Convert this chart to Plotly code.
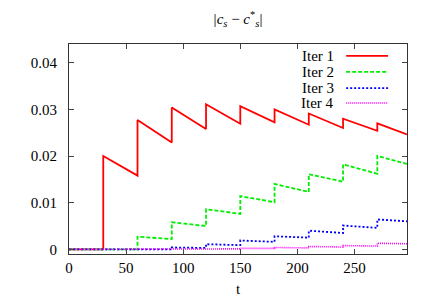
import plotly.graph_objects as go

# ---- data ----
jump_times = [30, 60, 90, 120, 150, 180, 210, 240, 270]
t_end = 296

iter1_peak = [0.0200, 0.0277, 0.0304, 0.0311, 0.0307, 0.0300, 0.0291, 0.0280, 0.0270]
iter1_end = [0.0158, 0.0229, 0.0258, 0.0269, 0.0272, 0.0267, 0.0260, 0.0254, 0.0246]

iter2_peak = [0.0027, 0.0058, 0.0086, 0.0114, 0.0140, 0.0161, 0.0182, 0.0200]
iter2_end = [0.0022, 0.0050, 0.0076, 0.0101, 0.0123, 0.0145, 0.0162, 0.0183]

iter3_peak = [0.0004, 0.0011, 0.0019, 0.0028, 0.0040, 0.0051, 0.0064]
iter3_end = [0.0003, 0.0009, 0.0016, 0.0025, 0.0035, 0.0046, 0.0060]

iter4_peak = [0.0001, 0.0002, 0.0004, 0.0006, 0.0008, 0.0013]
iter4_end = [0.0001, 0.0002, 0.0003, 0.0005, 0.0007, 0.0012]

names = ["Iter 1", "Iter 2", "Iter 3", "Iter 4"]
x_ticks = [0, 50, 100, 150, 200, 250]
y_ticks = [0, 0.01, 0.02, 0.03, 0.04]
y_tick_labels = ["0", "0.01", "0.02", "0.03", "0.04"]


def sawtooth(peaks, ends):
    starts = jump_times[len(jump_times) - len(peaks):]
    stops = starts[1:] + [t_end]
    xs, ys = [0, starts[0]], [0, 0]
    for s, e, p, q in zip(starts, stops, peaks, ends):
        xs += [s, e]
        ys += [p, q]
    return xs, ys


series = [sawtooth(iter1_peak, iter1_end), sawtooth(iter2_peak, iter2_end),
          sawtooth(iter3_peak, iter3_end), sawtooth(iter4_peak, iter4_end)]
colors = ["#ff0000", "#00ee00", "#0000ff", "#ff00ff"]
dashes = ["solid", "4px,2px", "2px,2px", "1px,1px"]
widths = [1.8, 1.8, 1.8, 1.6]

font = "Liberation Serif, Times New Roman, serif"

fig = go.Figure()
for (xs, ys), c, d, w, n in zip(series, colors, dashes, widths, names):
    fig.add_trace(go.Scatter(x=xs, y=ys, mode="lines", name=n,
                             line=dict(color=c, dash=d, width=w),
                             showlegend=False))

# gnuplot-like legend: text right-aligned, sample line on the right
leg_y = [0.943, 0.867, 0.790, 0.719]
for n, c, d, w, yy in zip(names, colors, dashes, widths, leg_y):
    fig.add_annotation(x=0.79, y=yy, xref="paper", yref="paper", text=n,
                       showarrow=False, xanchor="right", yanchor="middle",
                       font=dict(family=font, size=15, color="black"))
    fig.add_shape(type="line", xref="paper", yref="paper",
                  x0=0.82, x1=0.944, y0=yy, y1=yy,
                  line=dict(color=c, dash=d, width=w))

# the page body has an 8px margin, so the figure is 8px smaller than the window
fig.update_layout(
    template="none",
    width=424, height=294,
    margin=dict(l=61, r=25, t=36, b=48),
    paper_bgcolor="white", plot_bgcolor="white",
    font=dict(family=font, size=15, color="black"),
    title=dict(text="|<i>c<sub>s</sub></i> − <i>c</i><sup>*</sup><sub><i>s</i></sub>|",
               x=0.5, xref="paper", y=1 - 11 / 294, yref="container",
               xanchor="center", yanchor="middle",
               font=dict(family=font, size=15)),
)
fig.update_xaxes(range=[0, t_end], tickvals=x_ticks, ticks="inside", ticklen=5,
                 showline=True, linecolor="#333", linewidth=1, mirror="ticks",
                 showgrid=False, zeroline=False, automargin=False,
                 tickfont=dict(family=font, size=15),
                 title=dict(text="t", standoff=8, font=dict(family=font, size=15)))
fig.update_yaxes(range=[-0.001, 0.044], tickvals=y_ticks, ticktext=y_tick_labels,
                 ticks="inside", ticklen=5, ticklabelstandoff=8,
                 showline=True, linecolor="#333", linewidth=1, mirror="ticks",
                 showgrid=False, zeroline=False, automargin=False,
                 tickfont=dict(family=font, size=15))

fig.write_html("out.html")
